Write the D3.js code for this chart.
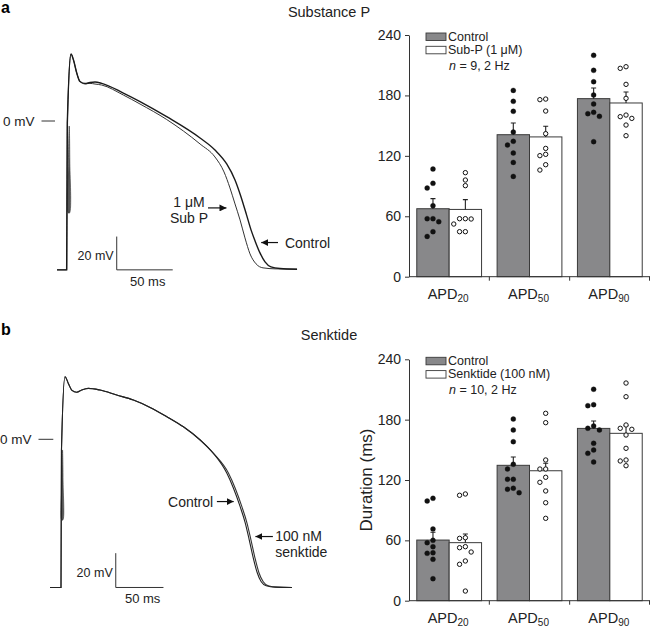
<!DOCTYPE html>
<html>
<head>
<meta charset="utf-8">
<script src="https://cdn.jsdelivr.net/npm/d3@7/dist/d3.min.js"></script>
<style>
body { margin: 0; background: #fff }
svg { display: block; font-family: "Liberation Sans", Arial, Helvetica, sans-serif }
</style>
</head>
<body>
<svg id="fig" width="651" height="629"></svg>
<script>
// Data //
const groups = ["20", "50", "90"]
const yTicks = [0, 60, 120, 180, 240]

// panel a, substance P (ms)
const subPCtrlMean = [67.5, 141.0, 176.8]
const subPCtrlSem = [10.0, 11.6, 10.6]
const subPDrugMean = [66.8, 138.8, 172.5]
const subPDrugSem = [9.7, 10.6, 10.9]
const subPCtrlDots = [
    [106.9, 92.7, 88.0, 70.5, 57.6, 57.6, 54.6, 44.7, 40.0],
    [185.0, 174.1, 164.2, 143.6, 134.4, 130.7, 122.8, 113.5, 99.6],
    [219.8, 204.9, 193.6, 180.4, 171.5, 163.2, 161.9, 159.2, 134.1]
]
const subPDrugDots = [
    [103.3, 96.0, 90.4, 57.6, 57.6, 57.3, 52.3, 44.7, 44.7],
    [176.4, 175.8, 164.5, 142.0, 127.4, 121.5, 120.2, 111.2, 105.9],
    [208.5, 206.9, 191.0, 177.1, 160.5, 158.9, 157.2, 150.6, 140.0]
]

// panel b, senktide (ms)
const senkCtrlMean = [60.3, 134.6, 171.3]
const senkCtrlSem = [7.7, 8.2, 7.3]
const senkDrugMean = [57.7, 129.2, 166.4]
const senkDrugSem = [8.6, 7.4, 7.6]
const senkCtrlDots = [
    [101.8, 99.1, 71.3, 60.0, 57.7, 53.7, 47.7, 47.1, 41.2, 21.9],
    [180.6, 169.7, 158.1, 135.6, 130.9, 120.7, 120.7, 111.8, 110.8, 107.4],
    [210.2, 194.9, 193.9, 173.7, 171.4, 169.7, 156.5, 149.8, 146.5, 137.9]
]
const senkDrugDots = [
    [106.1, 104.8, 62.6, 62.0, 53.7, 52.7, 48.4, 39.5, 36.2, 9.6],
    [186.3, 177.0, 139.9, 130.9, 130.9, 122.7, 117.7, 109.1, 97.4, 81.9],
    [216.4, 202.8, 174.7, 171.4, 170.4, 164.7, 151.5, 139.9, 138.9, 134.2]
]

// action potential traces, [ms, mV]
const ctrlTraceA = [[-8.9,-89.4],[-0.3,-89.4],[0.3,-1.2],[3.6,40.2],[5.8,36.6],[8.7,28.8],[11.6,23.7],[16.1,22.5],
    [20.5,23.1],[25.0,23.4],[31.0,22.6],[50.3,16.8],[65.2,11.7],[89.0,2.6],[118.8,-10.2],[132.1,-17.4],[142.6,-25.8],
    [150.0,-35.4],[155.4,-45.6],[160.3,-56.4],[164.3,-65.4],[167.9,-72.0],[172.3,-79.2],[176.8,-84.6],[182.1,-87.6],
    [190.2,-88.6],[205.4,-89.0]]
const subPTraceA = [[-8.9,-89.4],[-0.3,-89.4],[0.3,-1.2],[3.6,40.2],[5.8,36.6],[8.7,28.8],[11.6,23.7],[16.1,22.3],
    [20.5,22.6],[25.0,22.2],[31.0,21.6],[50.3,15.6],[65.2,10.2],[89.0,0.9],[118.8,-13.8],[132.1,-21.6],[140.2,-30.6],
    [145.5,-40.2],[150.0,-49.8],[154.5,-59.4],[158.9,-70.2],[163.4,-79.8],[168.8,-85.8],[175.0,-88.2],[185.7,-88.8],
    [205.4,-89.0]]
const stimA = [[1.2,-55.2],[1.3,-23.4],[2.0,-3.0],[2.5,-23.4],[2.3,-55.2]]

const ctrlTraceB = [[-11.5,-86.4],[0,-86.4],[0.5,-6.2],[4.2,36.5],[7.7,32.6],[11.2,28.7],[16.5,27.4],[21.7,28.7],
    [28.6,29.7],[40.9,28.7],[58.4,25.8],[75.9,22.9],[93.4,18.6],[110.9,13.2],[128.3,7.3],[145.9,-0.4],[159.8,-8.2],
    [173.9,-19.8],[180.8,-28.5],[187.8,-39.3],[193.1,-48.7],[197.3,-58.6],[201.5,-69.1],[205.7,-77.8],[209.9,-83.1],
    [215.1,-85.4],[224.6,-86.2],[242.1,-86.4]]
const senkTraceB = [[-11.5,-86.4],[0,-86.4],[0.5,-6.2],[4.2,36.5],[7.7,32.6],[11.2,28.7],[16.5,27.4],[21.7,28.7],
    [28.6,29.7],[40.9,28.7],[58.4,25.8],[75.9,22.9],[93.4,18.6],[110.9,13.2],[128.3,7.3],[145.9,-0.4],[159.8,-8.2],
    [175.6,-19.8],[182.6,-28.5],[189.6,-39.3],[194.9,-48.7],[199.1,-58.6],[203.3,-69.1],[207.5,-77.8],[212.0,-83.1],
    [217.2,-85.4],[226.7,-86.2],[242.1,-86.4]]
const stimB = [[0.8,-47],[1.0,-25],[1.6,-6.2],[2.2,-25],[2.0,-47]]


const svg = d3.select("#fig")

svg.append("defs").append("marker")
    .attr("id", "arrow")
    .attr("viewBox", "0 0 10 10")
    .attr("refX", 10).attr("refY", 5)
    .attr("markerWidth", 7).attr("markerHeight", 7)
    .attr("markerUnits", "userSpaceOnUse")
    .attr("orient", "auto")
    .append("path")
    .attr("d", "M0,0 L10,5 L0,10 z")
    .attr("fill", "#111")


// Trace panel //
function drawTrace(cfg) {
    const g = svg.append("g")
    const x = d3.scaleLinear().domain([0, 50]).range([cfg.x0, cfg.x0 + cfg.px50])
    const y = d3.scaleLinear().domain([0, 20]).range([cfg.y0, cfg.y0 - cfg.px20])

    const line = d3.line().x(d => x(d[0])).y(d => y(d[1])).curve(d3.curveMonotoneX)

    // stimulus artefact, a thin spindle
    g.append("path").attr("d", d3.line().x(d => x(d[0])).y(d => y(d[1])).curve(d3.curveCatmullRomClosed)(cfg.stim))
        .attr("fill", "#555").attr("stroke", "#333").attr("stroke-width", 0.6)

    cfg.traces.forEach(t => {
        g.append("path").attr("d", line(t.data))
            .attr("fill", "none").attr("stroke", t.color).attr("stroke-width", t.width)
    })

    // 0 mV marker
    g.append("line")
        .attr("x1", cfg.zeroLine[0]).attr("x2", cfg.zeroLine[1])
        .attr("y1", y(0)).attr("y2", y(0))
        .attr("stroke", "#333").attr("stroke-width", 1)
    g.append("text").attr("x", cfg.zeroLine[0] - 7).attr("y", y(0) + 5)
        .attr("text-anchor", "end").attr("font-size", 13.5).attr("fill", "#222").text("0 mV")

    // scale bars
    const sb = cfg.bar
    g.append("path")
        .attr("d", `M${x(sb[0])},${y(sb[1] + 20)}V${y(sb[1])}H${x(sb[0] + 50)}`)
        .attr("fill", "none").attr("stroke", "#333").attr("stroke-width", 1)
    g.append("text").attr("x", x(sb[0]) - 3).attr("y", y(sb[1] + 6))
        .attr("text-anchor", "end").attr("font-size", 12.5).attr("fill", "#222").text("20 mV")
    g.append("text").attr("x", x(sb[0] + 25) + 3).attr("y", y(sb[1]) + 16)
        .attr("text-anchor", "middle").attr("font-size", 13).attr("fill", "#222").text("50 ms")

    // annotations
    cfg.notes.forEach(n => {
        n.lines.forEach((s, i) => {
            g.append("text").attr("x", x(n.at[0])).attr("y", y(n.at[1]) + i * 16.5)
                .attr("text-anchor", n.anchor).attr("font-size", 14).attr("fill", "#222").text(s)
        })
        g.append("line")
            .attr("x1", x(n.arrow[0])).attr("y1", y(n.arrow[2]))
            .attr("x2", x(n.arrow[1])).attr("y2", y(n.arrow[2]))
            .attr("stroke", "#111").attr("stroke-width", 1.2)
            .attr("marker-end", "url(#arrow)")
    })
}


// Bar panel //
function drawBars(cfg) {
    const g = svg.append("g")
    const y = d3.scaleLinear().domain([0, 240]).range([cfg.y0, cfg.y240])
    const xG = d3.scaleBand().domain(groups).range([409, 650])
    const xS = d3.scaleBand().domain(["ctrl", "drug"]).range([0, xG.bandwidth()]).paddingOuter(0.24)

    const series = [
        {key: "ctrl", mean: cfg.ctrlMean, sem: cfg.ctrlSem, dots: cfg.ctrlDots, fill: "#88888a", dot: "#111"},
        {key: "drug", mean: cfg.drugMean, sem: cfg.drugSem, dots: cfg.drugDots, fill: "#fff", dot: "#fff"}
    ]

    series.forEach(s => {
        groups.forEach((gr, i) => {
            const bx = xG(gr) + xS(s.key)
            const bw = xS.bandwidth()
            g.append("rect")
                .attr("x", bx).attr("y", y(s.mean[i]))
                .attr("width", bw).attr("height", y(0) - y(s.mean[i]))
                .attr("fill", s.fill).attr("stroke", "#3a3a3a").attr("stroke-width", 1)
            const cx = bx + bw / 2
            g.append("path")
                .attr("d", `M${cx},${y(s.mean[i])}V${y(s.mean[i] + s.sem[i])}M${cx - 2.5},${y(s.mean[i] + s.sem[i])}H${cx + 2.5}`)
                .attr("fill", "none").attr("stroke", "#222").attr("stroke-width", 1.1)
        })
    })

    // dots, simple beeswarm per bar
    series.forEach(s => {
        groups.forEach((gr, i) => {
            const cx = xG(gr) + xS(s.key) + xS.bandwidth() / 2
            const placed = []
            s.dots[i].slice().sort((a, b) => b - a).forEach(v => {
                const py = y(v)
                const slots = [0, -1, 1, -2, 2]
                let px = cx
                for (const k of slots) {
                    const tx = cx + k * 5.8
                    if (placed.every(p => Math.hypot(p[0] - tx, p[1] - py) >= 5.4)) { px = tx; break }
                }
                placed.push([px, py])
            })
            placed.forEach(p => {
                g.append("circle").attr("cx", p[0]).attr("cy", p[1])
                    .attr("r", s.key === "ctrl" ? 2.5 : 2.2)
                    .attr("fill", s.dot).attr("stroke", "#111").attr("stroke-width", s.key === "ctrl" ? 0.3 : 1)
            })
        })
    })

    // y axis
    const ax = g.append("g").attr("transform", "translate(409,0)")
        .call(d3.axisLeft(y).tickValues(yTicks).tickSize(4).tickSizeOuter(0).tickPadding(4))
    ax.select(".domain").attr("stroke", "#333")
    ax.selectAll(".tick line").attr("stroke", "#333")
    ax.selectAll(".tick text").attr("font-size", 14).attr("fill", "#222")
        .attr("font-family", "Liberation Sans, Arial, sans-serif")

    // x axis
    g.append("line").attr("x1", 409).attr("x2", 650).attr("y1", y(0)).attr("y2", y(0))
        .attr("stroke", "#333").attr("stroke-width", 1)
    groups.forEach(gr => {
        const tx = Math.min(xG(gr) + xG.bandwidth(), 649.5)
        g.append("line").attr("x1", tx).attr("x2", tx).attr("y1", y(0)).attr("y2", y(0) + 4)
            .attr("stroke", "#333")
        const t = g.append("text").attr("x", xG(gr) + xG.bandwidth() / 2 - 1).attr("y", y(0) + 22)
            .attr("text-anchor", "middle").attr("font-size", 14.5).attr("fill", "#222")
        t.append("tspan").text("APD")
        t.append("tspan").attr("font-size", 10).attr("dy", 3.5).text(gr)
    })

    // legend
    const lg = g.append("g")
    cfg.legend.forEach((txt, i) => {
        lg.append("rect").attr("x", 426).attr("y", cfg.y240 - 2 + i * 13.3)
            .attr("width", 20).attr("height", 7.5)
            .attr("fill", series[i].fill).attr("stroke", "#3a3a3a").attr("stroke-width", 0.9)
        lg.append("text").attr("x", 448).attr("y", cfg.y240 + 5.5 + i * 13.3)
            .attr("font-size", 12.5).attr("fill", "#222").text(txt)
    })
    const nt = lg.append("text").attr("x", 449).attr("y", cfg.y240 + 35)
        .attr("font-size", 12.5).attr("fill", "#222")
    nt.append("tspan").attr("font-style", "italic").text("n")
    nt.append("tspan").text(cfg.nText)

    if (cfg.yLabel) {
        g.append("text")
            .attr("transform", `translate(372,${(cfg.y0 + cfg.y240) / 2}) rotate(-90)`)
            .attr("text-anchor", "middle").attr("font-size", 17).attr("fill", "#222")
            .text(cfg.yLabel)
    }

    g.append("text").attr("x", 329).attr("y", cfg.titleY)
        .attr("text-anchor", "middle").attr("font-size", 14.5).attr("fill", "#222").text(cfg.title)
}


// Panel a //
svg.append("text").attr("x", 1).attr("y", 13).attr("font-size", 16).attr("font-weight", "bold").text("a")
drawTrace({
    x0: 67, px50: 56, y0: 121, px20: 33.3,
    stim: stimA,
    traces: [
        {data: subPTraceA, color: "#333", width: 1},
        {data: ctrlTraceA, color: "#1a1a1a", width: 1.4}
    ],
    zeroLine: [41.5, 55],
    bar: [44.4, -89.4],
    notes: [
        {lines: ["1 \u03bcM", "Sub P"], at: [108.9, -51.4], anchor: "middle", arrow: [125.9, 142.4, -52.2]},
        {lines: ["Control"], at: [194.6, -76.4], anchor: "start", arrow: [188.4, 173.4, -73.0]}
    ]
})
drawBars({
    y0: 276.7, y240: 35,
    ctrlMean: subPCtrlMean, ctrlSem: subPCtrlSem, ctrlDots: subPCtrlDots,
    drugMean: subPDrugMean, drugSem: subPDrugSem, drugDots: subPDrugDots,
    legend: ["Control", "Sub-P (1 \u03bcM)"], nText: " = 9, 2 Hz",
    title: "Substance P", titleY: 17
})


// Panel b //
svg.append("text").attr("x", 1).attr("y", 335).attr("font-size", 16).attr("font-weight", "bold").text("b")
drawTrace({
    x0: 61, px50: 47.7, y0: 439.3, px20: 34.3,
    stim: stimB,
    traces: [
        {data: senkTraceB, color: "#333", width: 1.1},
        {data: ctrlTraceB, color: "#222", width: 1.1}
    ],
    zeroLine: [38.5, 53.3],
    bar: [57.4, -86.4],
    notes: [
        {lines: ["Control"], at: [159.5, -39.6], anchor: "end", arrow: [163.4, 181.0, -36.3]},
        {lines: ["100 nM", "senktide"], at: [224.6, -59.1], anchor: "start", arrow: [222.1, 203.8, -56.7]}
    ]
})
drawBars({
    y0: 600.7, y240: 359.3,
    ctrlMean: senkCtrlMean, ctrlSem: senkCtrlSem, ctrlDots: senkCtrlDots,
    drugMean: senkDrugMean, drugSem: senkDrugSem, drugDots: senkDrugDots,
    legend: ["Control", "Senktide (100 nM)"], nText: " = 10, 2 Hz",
    yLabel: "Duration (ms)",
    title: "Senktide", titleY: 340
})
</script>
</body>
</html>
